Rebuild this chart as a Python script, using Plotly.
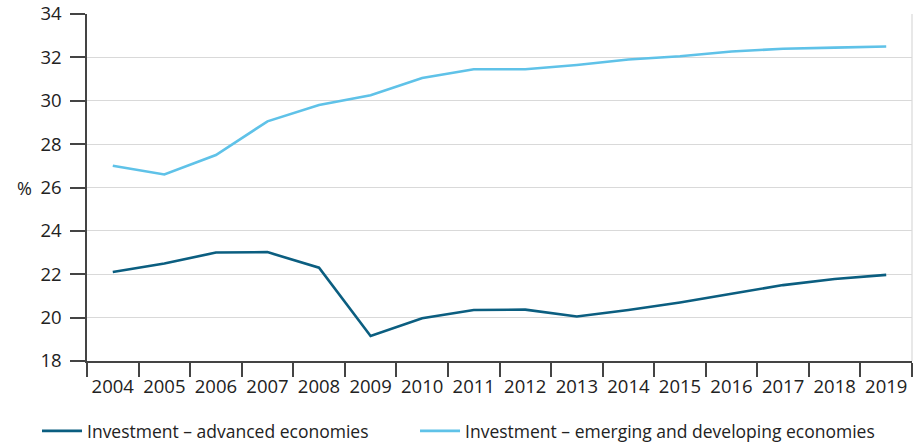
import plotly.graph_objects as go

years = [str(y) for y in range(2004, 2020)]
advanced = [22.1, 22.5, 23.0, 23.02, 22.3, 19.15, 19.97, 20.35, 20.37, 20.05, 20.35, 20.7, 21.1, 21.5, 21.78, 21.97]
emerging = [27.0, 26.6, 27.5, 29.05, 29.8, 30.25, 31.05, 31.45, 31.45, 31.65, 31.9, 32.05, 32.27, 32.4, 32.45, 32.5]
y_ticks = [18, 20, 22, 24, 26, 28, 30, 32, 34]

FONT = "Open Sans"
TXT = "#222222"
fig = go.Figure()
fig.add_trace(go.Scatter(x=years, y=advanced, mode="lines", name="Investment – advanced economies",
                         line=dict(color="#0b5e80", width=2.6), legend="legend"))
fig.add_trace(go.Scatter(x=years, y=emerging, mode="lines", name="Investment – emerging and developing economies",
                         line=dict(color="#5fc2e8", width=2.6), legend="legend2"))

leg_common = dict(orientation="h", xanchor="left", y=-0.15, yanchor="top",
                  font=dict(family=FONT, size=17.5, color=TXT), itemwidth=40,
                  bgcolor="rgba(0,0,0,0)")

fig.update_layout(
    width=914, height=443,
    margin=dict(l=87, r=2, t=14, b=82, autoexpand=False),
    plot_bgcolor="white", paper_bgcolor="white",
    font=dict(family=FONT, size=18, color=TXT),
    showlegend=True,
    legend=dict(x=-0.0606, **leg_common),
    legend2=dict(x=0.3976, **leg_common),
    xaxis=dict(type="category", tickson="boundaries", ticks="outside", ticklen=14, tickwidth=1.5,
               tickcolor="#444444", showline=True, linecolor="#444444", linewidth=1.5,
               showgrid=False, range=[-0.5, 15.5], automargin=False, ticklabelstandoff=8,
               tickangle=0, ticklabeloverflow="allow",
               tickfont=dict(family=FONT, size=18.5, color=TXT)),
    yaxis=dict(range=[18, 34], tickvals=y_ticks, ticks="outside", ticklen=15, tickwidth=1.5,
               tickcolor="#444444", showline=True, linecolor="#444444", linewidth=1.5,
               showgrid=True, gridcolor="#d9d9d9", gridwidth=1.2, zeroline=False, ticklabelstandoff=5,
               automargin=False, ticklabeloverflow="allow",
               tickfont=dict(family=FONT, size=18.5, color=TXT)),
    shapes=[dict(type="line", xref="paper", yref="paper", x0=1, x1=1, y0=0, y1=1,
                 line=dict(color="#d9d9d9", width=1.2))],
    annotations=[dict(text="%", xref="paper", yref="paper", x=-0.087, y=0.5, xanchor="left",
                      yanchor="middle", showarrow=False, font=dict(family=FONT, size=18, color=TXT))],
)

fig.write_html("out.html", config={"displayModeBar": False},
               post_script="document.body.style.margin='0';document.body.style.padding='0';")
